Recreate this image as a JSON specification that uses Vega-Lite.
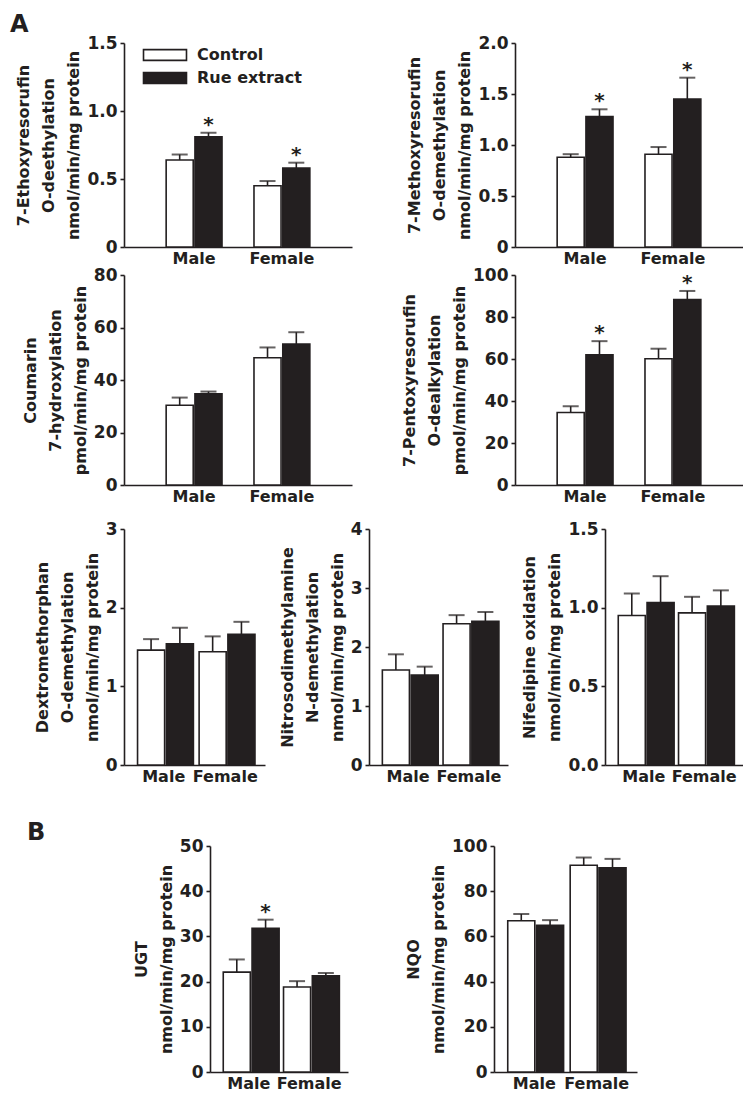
{
  "$schema": "https://vega.github.io/schema/vega-lite/v6.json",
  "autosize": {"type": "pad"},
  "padding": {"left": 0, "top": 13, "right": 0, "bottom": 0},
  "background": "white",
  "datasets": {
    "d": [
      {"panel": "p1", "sex": "Male", "group": "Control", "mean": 0.64, "upper": 0.68, "sig": false},
      {"panel": "p1", "sex": "Male", "group": "Rue extract", "mean": 0.81, "upper": 0.84, "sig": true},
      {"panel": "p1", "sex": "Female", "group": "Control", "mean": 0.45, "upper": 0.485, "sig": false},
      {"panel": "p1", "sex": "Female", "group": "Rue extract", "mean": 0.58, "upper": 0.62, "sig": true},
      {"panel": "p2", "sex": "Male", "group": "Control", "mean": 0.88, "upper": 0.91, "sig": false},
      {"panel": "p2", "sex": "Male", "group": "Rue extract", "mean": 1.28, "upper": 1.35, "sig": true},
      {"panel": "p2", "sex": "Female", "group": "Control", "mean": 0.91, "upper": 0.98, "sig": false},
      {"panel": "p2", "sex": "Female", "group": "Rue extract", "mean": 1.45, "upper": 1.66, "sig": true},
      {"panel": "p3", "sex": "Male", "group": "Control", "mean": 30.4, "upper": 33.3, "sig": false},
      {"panel": "p3", "sex": "Male", "group": "Rue extract", "mean": 34.7, "upper": 35.6, "sig": false},
      {"panel": "p3", "sex": "Female", "group": "Control", "mean": 48.5, "upper": 52.4, "sig": false},
      {"panel": "p3", "sex": "Female", "group": "Rue extract", "mean": 53.7, "upper": 58.2, "sig": false},
      {"panel": "p4", "sex": "Male", "group": "Control", "mean": 34.5, "upper": 37.5, "sig": false},
      {"panel": "p4", "sex": "Male", "group": "Rue extract", "mean": 62.0, "upper": 68.5, "sig": true},
      {"panel": "p4", "sex": "Female", "group": "Control", "mean": 60.1, "upper": 64.9, "sig": false},
      {"panel": "p4", "sex": "Female", "group": "Rue extract", "mean": 88.3, "upper": 92.4, "sig": true},
      {"panel": "p5", "sex": "Male", "group": "Control", "mean": 1.46, "upper": 1.6, "sig": false},
      {"panel": "p5", "sex": "Male", "group": "Rue extract", "mean": 1.54, "upper": 1.745, "sig": false},
      {"panel": "p5", "sex": "Female", "group": "Control", "mean": 1.44, "upper": 1.635, "sig": false},
      {"panel": "p5", "sex": "Female", "group": "Rue extract", "mean": 1.66, "upper": 1.82, "sig": false},
      {"panel": "p6", "sex": "Male", "group": "Control", "mean": 1.61, "upper": 1.876, "sig": false},
      {"panel": "p6", "sex": "Male", "group": "Rue extract", "mean": 1.525, "upper": 1.667, "sig": false},
      {"panel": "p6", "sex": "Female", "group": "Control", "mean": 2.395, "upper": 2.54, "sig": false},
      {"panel": "p6", "sex": "Female", "group": "Rue extract", "mean": 2.435, "upper": 2.593, "sig": false},
      {"panel": "p7", "sex": "Male", "group": "Control", "mean": 0.95, "upper": 1.09, "sig": false},
      {"panel": "p7", "sex": "Male", "group": "Rue extract", "mean": 1.033, "upper": 1.2, "sig": false},
      {"panel": "p7", "sex": "Female", "group": "Control", "mean": 0.967, "upper": 1.069, "sig": false},
      {"panel": "p7", "sex": "Female", "group": "Rue extract", "mean": 1.011, "upper": 1.11, "sig": false},
      {"panel": "p8", "sex": "Male", "group": "Control", "mean": 22.1, "upper": 24.9, "sig": false},
      {"panel": "p8", "sex": "Male", "group": "Rue extract", "mean": 31.8, "upper": 33.7, "sig": true},
      {"panel": "p8", "sex": "Female", "group": "Control", "mean": 18.8, "upper": 20.1, "sig": false},
      {"panel": "p8", "sex": "Female", "group": "Rue extract", "mean": 21.3, "upper": 21.9, "sig": false},
      {"panel": "p9", "sex": "Male", "group": "Control", "mean": 66.9, "upper": 69.9, "sig": false},
      {"panel": "p9", "sex": "Male", "group": "Rue extract", "mean": 64.9, "upper": 67.2, "sig": false},
      {"panel": "p9", "sex": "Female", "group": "Control", "mean": 91.5, "upper": 94.9, "sig": false},
      {"panel": "p9", "sex": "Female", "group": "Rue extract", "mean": 90.4, "upper": 94.3, "sig": false}
    ]
  },
  "spacing": 0,
  "vconcat": [
    {
      "spacing": 0, "bounds": "flush",
      "hconcat": [
        {"width": 124, "height": 204, "data": {"values": [{}]}, "mark": {"type": "point", "opacity": 0},
         "title": {"text": "A", "anchor": "start", "fontSize": 24, "fontWeight": "bold", "baseline": "alphabetic", "dx": 10, "offset": -13, "color": "#231f20"}},
        {
          "width": 228, "height": 204,
          "data": {"name": "d"},
          "transform": [{"filter": "datum.panel == 'p1'"}],
          "encoding": {
            "x": {"field": "sex", "type": "nominal", "sort": ["Male", "Female"], "scale": {"paddingInner": 0.364, "paddingOuter": 0.48}, "axis": {"title": null}},
            "xOffset": {"field": "group", "type": "nominal", "sort": ["Control", "Rue extract"], "scale": {"paddingInner": 0.06}}
          },
          "layer": [
            {"mark": {"type": "rule", "color": "#231f20", "strokeWidth": 1.6},
             "encoding": {"y": {"field": "mean", "type": "quantitative", "scale": {"domain": [0, 1.5], "nice": false}, "axis": {"values": [0, 0.5, 1, 1.5], "labelExpr": "datum.value == 0 ? '0' : format(datum.value, '.1f')", "title": ["7-Ethoxyresorufin", "O-deethylation", "nmol/min/mg protein"]}}, "y2": {"field": "upper"}}},
            {"mark": {"type": "tick", "color": "#231f20", "size": 16, "thickness": 2},
             "encoding": {"y": {"field": "upper", "type": "quantitative"}}},
            {"mark": {"type": "bar", "stroke": "#231f20", "strokeWidth": 1.6},
             "encoding": {"y": {"field": "mean", "type": "quantitative"},
               "fill": {"field": "group", "type": "nominal", "scale": {"domain": ["Control", "Rue extract"], "range": ["#ffffff", "#231f20"]},
                 "legend": {"title": null, "orient": "none", "legendX": 153, "legendY": 0, "padding": 0, "symbolType": "M-2,-0.5H2V0.5H-2Z", "symbolSize": 462, "symbolStrokeColor": "#231f20", "symbolStrokeWidth": 1.6, "labelFont": "DejaVu Sans", "labelFontSize": 16, "labelFontWeight": "bold", "labelColor": "#231f20", "labelOffset": 20, "rowPadding": 2}}}},
            {"transform": [{"filter": "datum.sig"}], "mark": {"type": "text", "text": "*", "fontSize": 20, "fontWeight": "bold", "font": "DejaVu Sans", "baseline": "alphabetic", "dy": -2, "color": "#231f20"},
             "encoding": {"y": {"field": "upper", "type": "quantitative"}}}
          ]
        },
        {"width": 163, "height": 204, "data": {"values": [{}]}, "mark": {"type": "point", "opacity": 0}},
        {
          "width": 228, "height": 204,
          "data": {"name": "d"},
          "transform": [{"filter": "datum.panel == 'p2'"}],
          "encoding": {
            "x": {"field": "sex", "type": "nominal", "sort": ["Male", "Female"], "scale": {"paddingInner": 0.364, "paddingOuter": 0.48}, "axis": {"title": null}},
            "xOffset": {"field": "group", "type": "nominal", "sort": ["Control", "Rue extract"], "scale": {"paddingInner": 0.06}}
          },
          "layer": [
            {"mark": {"type": "rule", "color": "#231f20", "strokeWidth": 1.6},
             "encoding": {"y": {"field": "mean", "type": "quantitative", "scale": {"domain": [0, 2], "nice": false}, "axis": {"values": [0, 0.5, 1, 1.5, 2], "labelExpr": "datum.value == 0 ? '0' : format(datum.value, '.1f')", "title": ["7-Methoxyresorufin", "O-demethylation", "nmol/min/mg protein"]}}, "y2": {"field": "upper"}}},
            {"mark": {"type": "tick", "color": "#231f20", "size": 16, "thickness": 2},
             "encoding": {"y": {"field": "upper", "type": "quantitative"}}},
            {"mark": {"type": "bar", "stroke": "#231f20", "strokeWidth": 1.6},
             "encoding": {"y": {"field": "mean", "type": "quantitative"},
               "fill": {"field": "group", "type": "nominal", "legend": null}}},
            {"transform": [{"filter": "datum.sig"}], "mark": {"type": "text", "text": "*", "fontSize": 20, "fontWeight": "bold", "font": "DejaVu Sans", "baseline": "alphabetic", "dy": -2, "color": "#231f20"},
             "encoding": {"y": {"field": "upper", "type": "quantitative"}}}
          ]
        }
      ]
    },
    {
      "spacing": 0, "bounds": "flush",
      "hconcat": [
        {"width": 124, "height": 210, "data": {"values": [{}]}, "mark": {"type": "point", "opacity": 0}},
        {
          "width": 228, "height": 210,
          "data": {"name": "d"},
          "transform": [{"filter": "datum.panel == 'p3'"}],
          "encoding": {
            "x": {"field": "sex", "type": "nominal", "sort": ["Male", "Female"], "scale": {"paddingInner": 0.364, "paddingOuter": 0.48}, "axis": {"title": null}},
            "xOffset": {"field": "group", "type": "nominal", "sort": ["Control", "Rue extract"], "scale": {"paddingInner": 0.06}}
          },
          "layer": [
            {"mark": {"type": "rule", "color": "#231f20", "strokeWidth": 1.6},
             "encoding": {"y": {"field": "mean", "type": "quantitative", "scale": {"domain": [0, 80], "nice": false}, "axis": {"values": [0, 20, 40, 60, 80], "format": "d", "title": ["Coumarin", "7-hydroxylation", "pmol/min/mg protein"]}}, "y2": {"field": "upper"}}},
            {"mark": {"type": "tick", "color": "#231f20", "size": 16, "thickness": 2},
             "encoding": {"y": {"field": "upper", "type": "quantitative"}}},
            {"mark": {"type": "bar", "stroke": "#231f20", "strokeWidth": 1.6},
             "encoding": {"y": {"field": "mean", "type": "quantitative"},
               "fill": {"field": "group", "type": "nominal", "legend": null}}}
          ]
        },
        {"width": 163, "height": 210, "data": {"values": [{}]}, "mark": {"type": "point", "opacity": 0}},
        {
          "width": 228, "height": 210,
          "data": {"name": "d"},
          "transform": [{"filter": "datum.panel == 'p4'"}],
          "encoding": {
            "x": {"field": "sex", "type": "nominal", "sort": ["Male", "Female"], "scale": {"paddingInner": 0.364, "paddingOuter": 0.48}, "axis": {"title": null}},
            "xOffset": {"field": "group", "type": "nominal", "sort": ["Control", "Rue extract"], "scale": {"paddingInner": 0.06}}
          },
          "layer": [
            {"mark": {"type": "rule", "color": "#231f20", "strokeWidth": 1.6},
             "encoding": {"y": {"field": "mean", "type": "quantitative", "scale": {"domain": [0, 100], "nice": false}, "axis": {"values": [0, 20, 40, 60, 80, 100], "format": "d", "title": ["7-Pentoxyresorufin", "O-dealkylation", "pmol/min/mg protein"]}}, "y2": {"field": "upper"}}},
            {"mark": {"type": "tick", "color": "#231f20", "size": 16, "thickness": 2},
             "encoding": {"y": {"field": "upper", "type": "quantitative"}}},
            {"mark": {"type": "bar", "stroke": "#231f20", "strokeWidth": 1.6},
             "encoding": {"y": {"field": "mean", "type": "quantitative"},
               "fill": {"field": "group", "type": "nominal", "legend": null}}},
            {"transform": [{"filter": "datum.sig"}], "mark": {"type": "text", "text": "*", "fontSize": 20, "fontWeight": "bold", "font": "DejaVu Sans", "baseline": "alphabetic", "dy": -2, "color": "#231f20"},
             "encoding": {"y": {"field": "upper", "type": "quantitative"}}}
          ]
        }
      ]
    },
    {"width": 10, "height": 16, "data": {"values": [{}]}, "mark": {"type": "point", "opacity": 0}},
    {
      "spacing": 0, "bounds": "flush",
      "hconcat": [
        {"width": 124, "height": 236, "data": {"values": [{}]}, "mark": {"type": "point", "opacity": 0}},
        {
          "width": 141, "height": 236,
          "data": {"name": "d"},
          "transform": [{"filter": "datum.panel == 'p5'"}],
          "encoding": {
            "x": {"field": "sex", "type": "nominal", "sort": ["Male", "Female"], "scale": {"paddingInner": 0.15, "paddingOuter": 0.22}, "axis": {"title": null}},
            "xOffset": {"field": "group", "type": "nominal", "sort": ["Control", "Rue extract"], "scale": {"paddingInner": 0.06}}
          },
          "layer": [
            {"mark": {"type": "rule", "color": "#231f20", "strokeWidth": 1.6},
             "encoding": {"y": {"field": "mean", "type": "quantitative", "scale": {"domain": [0, 3], "nice": false}, "axis": {"values": [0, 1, 2, 3], "format": "d", "title": ["Dextromethorphan", "O-demethylation", "nmol/min/mg protein"]}}, "y2": {"field": "upper"}}},
            {"mark": {"type": "tick", "color": "#231f20", "size": 16, "thickness": 2},
             "encoding": {"y": {"field": "upper", "type": "quantitative"}}},
            {"mark": {"type": "bar", "stroke": "#231f20", "strokeWidth": 1.6},
             "encoding": {"y": {"field": "mean", "type": "quantitative"},
               "fill": {"field": "group", "type": "nominal", "legend": null}}}
          ]
        },
        {"width": 104, "height": 236, "data": {"values": [{}]}, "mark": {"type": "point", "opacity": 0}},
        {
          "width": 139, "height": 236,
          "data": {"name": "d"},
          "transform": [{"filter": "datum.panel == 'p6'"}],
          "encoding": {
            "x": {"field": "sex", "type": "nominal", "sort": ["Male", "Female"], "scale": {"paddingInner": 0.15, "paddingOuter": 0.22}, "axis": {"title": null}},
            "xOffset": {"field": "group", "type": "nominal", "sort": ["Control", "Rue extract"], "scale": {"paddingInner": 0.06}}
          },
          "layer": [
            {"mark": {"type": "rule", "color": "#231f20", "strokeWidth": 1.6},
             "encoding": {"y": {"field": "mean", "type": "quantitative", "scale": {"domain": [0, 4], "nice": false}, "axis": {"values": [0, 1, 2, 3, 4], "format": "d", "title": ["Nitrosodimethylamine", "N-demethylation", "nmol/min/mg protein"]}}, "y2": {"field": "upper"}}},
            {"mark": {"type": "tick", "color": "#231f20", "size": 16, "thickness": 2},
             "encoding": {"y": {"field": "upper", "type": "quantitative"}}},
            {"mark": {"type": "bar", "stroke": "#231f20", "strokeWidth": 1.6},
             "encoding": {"y": {"field": "mean", "type": "quantitative"},
               "fill": {"field": "group", "type": "nominal", "legend": null}}}
          ]
        },
        {"width": 97, "height": 236, "data": {"values": [{}]}, "mark": {"type": "point", "opacity": 0}},
        {
          "width": 138, "height": 236,
          "data": {"name": "d"},
          "transform": [{"filter": "datum.panel == 'p7'"}],
          "encoding": {
            "x": {"field": "sex", "type": "nominal", "sort": ["Male", "Female"], "scale": {"paddingInner": 0.15, "paddingOuter": 0.22}, "axis": {"title": null}},
            "xOffset": {"field": "group", "type": "nominal", "sort": ["Control", "Rue extract"], "scale": {"paddingInner": 0.06}}
          },
          "layer": [
            {"mark": {"type": "rule", "color": "#231f20", "strokeWidth": 1.6},
             "encoding": {"y": {"field": "mean", "type": "quantitative", "scale": {"domain": [0, 1.5], "nice": false}, "axis": {"values": [0, 0.5, 1, 1.5], "labelExpr": "format(datum.value, '.1f')", "title": ["Nifedipine oxidation", "nmol/min/mg protein"]}}, "y2": {"field": "upper"}}},
            {"mark": {"type": "tick", "color": "#231f20", "size": 16, "thickness": 2},
             "encoding": {"y": {"field": "upper", "type": "quantitative"}}},
            {"mark": {"type": "bar", "stroke": "#231f20", "strokeWidth": 1.6},
             "encoding": {"y": {"field": "mean", "type": "quantitative"},
               "fill": {"field": "group", "type": "nominal", "legend": null}}}
          ]
        }
      ]
    },
    {"width": 10, "height": 37, "data": {"values": [{}]}, "mark": {"type": "point", "opacity": 0}},
    {
      "spacing": 0, "bounds": "flush",
      "hconcat": [
        {"width": 210, "height": 226, "data": {"values": [{}]}, "mark": {"type": "point", "opacity": 0},
         "title": {"text": "B", "anchor": "start", "fontSize": 24, "fontWeight": "bold", "baseline": "alphabetic", "dx": 27, "offset": -18, "color": "#231f20"}},
        {
          "width": 138, "height": 226,
          "data": {"name": "d"},
          "transform": [{"filter": "datum.panel == 'p8'"}],
          "encoding": {
            "x": {"field": "sex", "type": "nominal", "sort": ["Male", "Female"], "scale": {"paddingInner": 0.15, "paddingOuter": 0.22}, "axis": {"title": null}},
            "xOffset": {"field": "group", "type": "nominal", "sort": ["Control", "Rue extract"], "scale": {"paddingInner": 0.06}}
          },
          "layer": [
            {"mark": {"type": "rule", "color": "#231f20", "strokeWidth": 1.6},
             "encoding": {"y": {"field": "mean", "type": "quantitative", "scale": {"domain": [0, 50], "nice": false}, "axis": {"values": [0, 10, 20, 30, 40, 50], "format": "d", "title": ["UGT", "nmol/min/mg protein"]}}, "y2": {"field": "upper"}}},
            {"mark": {"type": "tick", "color": "#231f20", "size": 16, "thickness": 2},
             "encoding": {"y": {"field": "upper", "type": "quantitative"}}},
            {"mark": {"type": "bar", "stroke": "#231f20", "strokeWidth": 1.6},
             "encoding": {"y": {"field": "mean", "type": "quantitative"},
               "fill": {"field": "group", "type": "nominal", "legend": null}}},
            {"transform": [{"filter": "datum.sig"}], "mark": {"type": "text", "text": "*", "fontSize": 20, "fontWeight": "bold", "font": "DejaVu Sans", "baseline": "alphabetic", "dy": -2, "color": "#231f20"},
             "encoding": {"y": {"field": "upper", "type": "quantitative"}}}
          ]
        },
        {"width": 146, "height": 226, "data": {"values": [{}]}, "mark": {"type": "point", "opacity": 0}},
        {
          "width": 143, "height": 226,
          "data": {"name": "d"},
          "transform": [{"filter": "datum.panel == 'p9'"}],
          "encoding": {
            "x": {"field": "sex", "type": "nominal", "sort": ["Male", "Female"], "scale": {"paddingInner": 0.15, "paddingOuter": 0.22}, "axis": {"title": null}},
            "xOffset": {"field": "group", "type": "nominal", "sort": ["Control", "Rue extract"], "scale": {"paddingInner": 0.06}}
          },
          "layer": [
            {"mark": {"type": "rule", "color": "#231f20", "strokeWidth": 1.6},
             "encoding": {"y": {"field": "mean", "type": "quantitative", "scale": {"domain": [0, 100], "nice": false}, "axis": {"values": [0, 20, 40, 60, 80, 100], "format": "d", "title": ["NQO", "nmol/min/mg protein"]}}, "y2": {"field": "upper"}}},
            {"mark": {"type": "tick", "color": "#231f20", "size": 16, "thickness": 2},
             "encoding": {"y": {"field": "upper", "type": "quantitative"}}},
            {"mark": {"type": "bar", "stroke": "#231f20", "strokeWidth": 1.6},
             "encoding": {"y": {"field": "mean", "type": "quantitative"},
               "fill": {"field": "group", "type": "nominal", "legend": null}}}
          ]
        }
      ]
    }
  ],
  "config": {
    "font": "DejaVu Sans",
    "view": {"stroke": null},
    "axis": {"grid": false, "domainColor": "#231f20", "domainWidth": 1.6, "tickColor": "#231f20", "tickWidth": 1.6, "labelFont": "DejaVu Sans", "labelFontWeight": "bold", "labelColor": "#231f20", "titleFont": "DejaVu Sans", "titleFontWeight": "bold", "titleFontSize": 16, "titleColor": "#231f20"},
    "axisX": {"ticks": false, "labelAngle": 0, "labelPadding": 3, "labelFontSize": 16},
    "axisY": {"tickSize": 4, "labelPadding": 3, "labelFontSize": 17, "titlePadding": 5, "titleLineHeight": 25}
  }
}
